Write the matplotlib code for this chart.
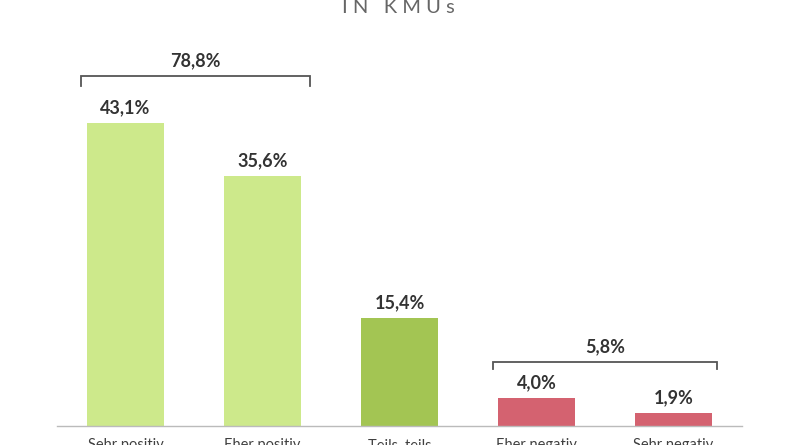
import matplotlib
matplotlib.use("Agg")
import matplotlib.pyplot as plt

# Daten
kategorien = ["Sehr positiv", "Eher positiv", "Teils, teils", "Eher negativ", "Sehr negativ"]
werte = [43.1, 35.6, 15.4, 4.0, 1.9]
farben = ["#cde98b", "#cde98b", "#a3c553", "#d46270", "#d46270"]
gruppen_labels = ["78,8%", "5,8%"]


def fmt(v):
    return ("%.1f%%" % v).replace(".", ",")


def main():
    plt.rcParams["font.family"] = ["Lato", "DejaVu Sans"]

    fig = plt.figure(figsize=(8, 4.45), dpi=100)
    ax = fig.add_axes([57 / 800, 19 / 445, 685 / 800, 426 / 445])

    x = range(len(werte))
    ax.bar(x, werte, width=0.555, color=farben, zorder=2)

    # Werte ueber den Balken
    for i, v in enumerate(werte):
        ax.annotate(fmt(v), (i, v), xytext=(0, 7), textcoords="offset points",
                    ha="center", va="baseline", fontsize=13, fontweight="bold",
                    color="#333333")

    # Klammern fuer die Gruppen
    klammern = [(-0.325, 1.347, 49.8, 48.3, 0), (2.68, 4.32, 9.1, 8.1, 1)]
    for x0, x1, y, y_low, g in klammern:
        ax.plot([x0, x0, x1, x1], [y_low, y, y, y_low], color="#555555",
                lw=1.3, solid_joinstyle="miter", clip_on=False)
        ax.annotate(gruppen_labels[g], ((x0 + x1) / 2, y), xytext=(0, 7),
                    textcoords="offset points", ha="center", va="baseline",
                    fontsize=13, fontweight="bold", color="#333333")

    ax.set_xlim(-0.5, 4.5)
    ax.set_ylim(0, 426 / 7.03)
    ax.set_xticks(list(x))
    ax.set_xticklabels(kategorien, fontsize=10.5, color="#404040")
    ax.tick_params(axis="x", length=0, pad=9)
    ax.set_yticks([])
    for s in ["top", "right", "left"]:
        ax.spines[s].set_visible(False)
    ax.spines["bottom"].set_color("#bbbbbb")
    ax.spines["bottom"].set_linewidth(1.0)

    # Titel (oben abgeschnitten)
    fig.text(398 / 800, 1 - 13 / 445, "I N   K M U s", ha="center", va="baseline",
             fontsize=14.5, color="#666666")

    fig.savefig("out.png", dpi=100)


if __name__ == "__main__":
    main()
